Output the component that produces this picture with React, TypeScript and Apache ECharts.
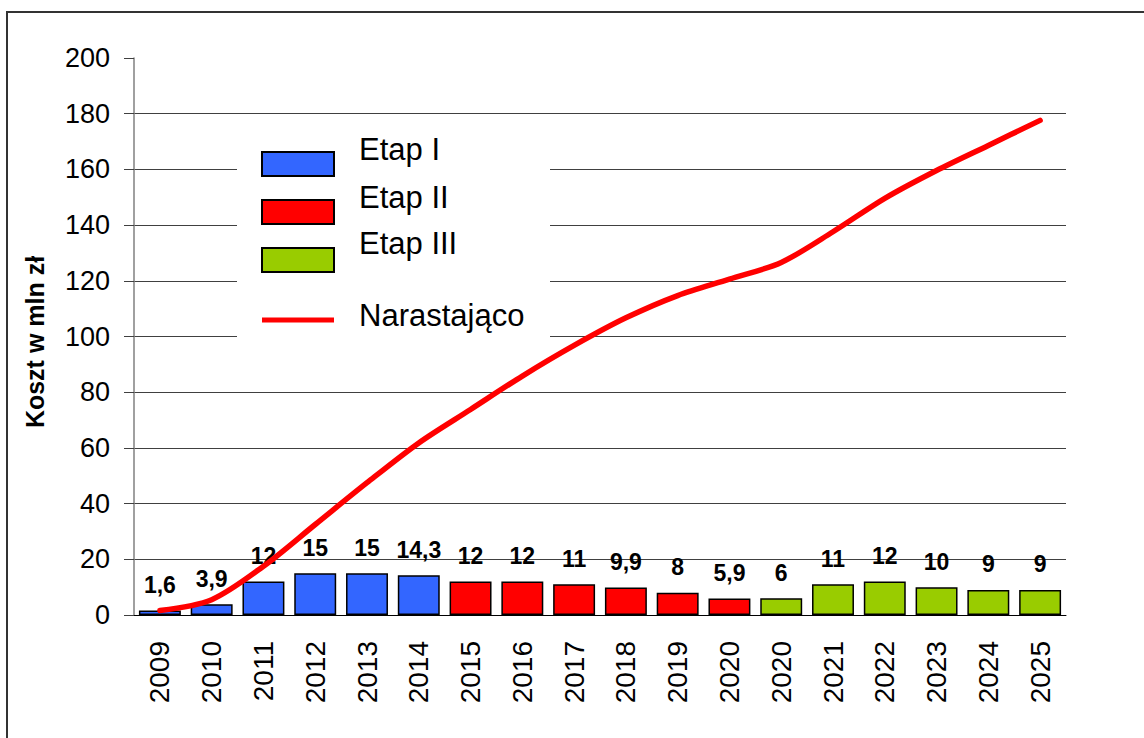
import React, { useEffect, useRef } from "react";
import * as echarts from "echarts";

const categories = ["2009", "2010", "2011", "2012", "2013", "2014", "2015", "2016", "2017", "2018", "2019", "2020", "2020", "2021", "2022", "2023", "2024", "2025"];
const etapI = [1.6, 3.9, 12, 15, 15, 14.3, null, null, null, null, null, null, null, null, null, null, null, null];
const etapII = [null, null, null, null, null, null, 12, 12, 11, 9.9, 8, 5.9, null, null, null, null, null, null];
const etapIII = [null, null, null, null, null, null, null, null, null, null, null, null, 6, 11, 12, 10, 9, 9];
const narastajaco = [1.6, 5.5, 17.5, 32.5, 47.5, 61.8, 73.8, 85.8, 96.8, 106.7, 114.7, 120.6, 126.6, 137.6, 149.6, 159.6, 168.6, 177.6];
const yTicks = [0, 20, 40, 60, 80, 100, 120, 140, 160, 180, 200];
const legendNames = ["Etap I", "Etap II", "Etap III", "Narastająco"];
const yTitle = "Koszt w mln zł";

const FONT = "'Liberation Sans', Arial, sans-serif";
const BLUE = "#3366ff";
const RED = "#ff0000";
const GREEN = "#99cc00";

const toData = (arr: (number | null)[]) => arr.map((v) => (v === null ? "-" : v));

export default function App() {
  const ref = useRef<HTMLDivElement>(null);
  useEffect(() => {
    if (!ref.current) return;
    const chart = echarts.init(ref.current, undefined, { renderer: "svg" });
    const barLabel = {
      show: true,
      position: "top" as const,
      distance: 14,
      fontFamily: FONT,
      fontSize: 23,
      fontWeight: "bold" as const,
      color: "#000",
      formatter: (p: any) => String(p.value).replace(".", ","),
    };
    const barSeries = (name: string, data: (number | null)[], color: string) => ({
      name,
      type: "bar",
      stack: "etap",
      data: toData(data),
      barWidth: "81%",
      itemStyle: { color, borderColor: "#000", borderWidth: 1.5 },
      label: barLabel,
      z: 2,
    });
    const splitColors = yTicks.map((t) => (t === 200 ? "rgba(0,0,0,0)" : "#404040"));
    const legendY = [164, 212, 260];
    const legendColors = [BLUE, RED, GREEN];
    const legendTextY = [149, 197, 243, 315];
    chart.setOption({
      animation: false,
      backgroundColor: "#fff",
      textStyle: { fontFamily: FONT },
      grid: { left: 134, right: 78, top: 58, bottom: 123 },
      xAxis: {
        type: "category",
        data: categories,
        axisTick: { show: false },
        axisLine: { lineStyle: { color: "#000", width: 1 } },
        axisLabel: { rotate: 90, fontSize: 28, margin: 26, color: "#000", fontFamily: FONT, interval: 0 },
      },
      yAxis: {
        type: "value",
        min: 0,
        max: 200,
        interval: 20,
        axisLine: { show: true, lineStyle: { color: "#808080", width: 1.5 } },
        axisTick: { show: true, length: 10, lineStyle: { color: "#404040" } },
        axisLabel: { fontSize: 27, margin: 24, color: "#000", fontFamily: FONT },
        splitLine: { show: true, lineStyle: { color: splitColors, width: 1 } },
      },
      series: [
        barSeries(legendNames[0], etapI, BLUE),
        barSeries(legendNames[1], etapII, RED),
        barSeries(legendNames[2], etapIII, GREEN),
        {
          name: legendNames[3],
          type: "line",
          data: narastajaco,
          smooth: 0.3,
          showSymbol: false,
          symbol: "none",
          lineStyle: { color: RED, width: 5.5, cap: "round" },
          itemStyle: { color: RED },
          z: 5,
        },
      ],
      graphic: [
        {
          type: "rect",
          shape: { x: 7, y: 12, width: 1300, height: 900 },
          style: { fill: "none", stroke: "#333", lineWidth: 2 },
          z: 100,
          silent: true,
        },
        {
          type: "text",
          x: 35,
          y: 342,
          rotation: Math.PI / 2,
          style: { text: yTitle, fontSize: 25, fontWeight: "bold", fontFamily: FONT, fill: "#000", align: "center", verticalAlign: "middle" },
          z: 51,
        },
        {
          type: "rect",
          shape: { x: 237, y: 125, width: 313, height: 220 },
          style: { fill: "#fff" },
          z: 50,
          silent: true,
        },
        ...legendY.map((y, i) => ({
          type: "rect",
          shape: { x: 262, y: y - 12, width: 72, height: 24 },
          style: { fill: legendColors[i], stroke: "#000", lineWidth: 2 },
          z: 51,
        })),
        {
          type: "line",
          shape: { x1: 262, y1: 320, x2: 334, y2: 320 },
          style: { stroke: RED, lineWidth: 5 },
          z: 51,
        },
        ...legendNames.map((n, i) => ({
          type: "text",
          x: 359,
          y: legendTextY[i],
          style: { text: n, fontSize: 31, fontFamily: FONT, fill: "#000", verticalAlign: "middle" },
          z: 51,
        })),
      ],
    });
    return () => chart.dispose();
  }, []);
  return <div ref={ref} style={{ position: "fixed", left: 0, top: 0, width: 1144, height: 738 }} />;
}
